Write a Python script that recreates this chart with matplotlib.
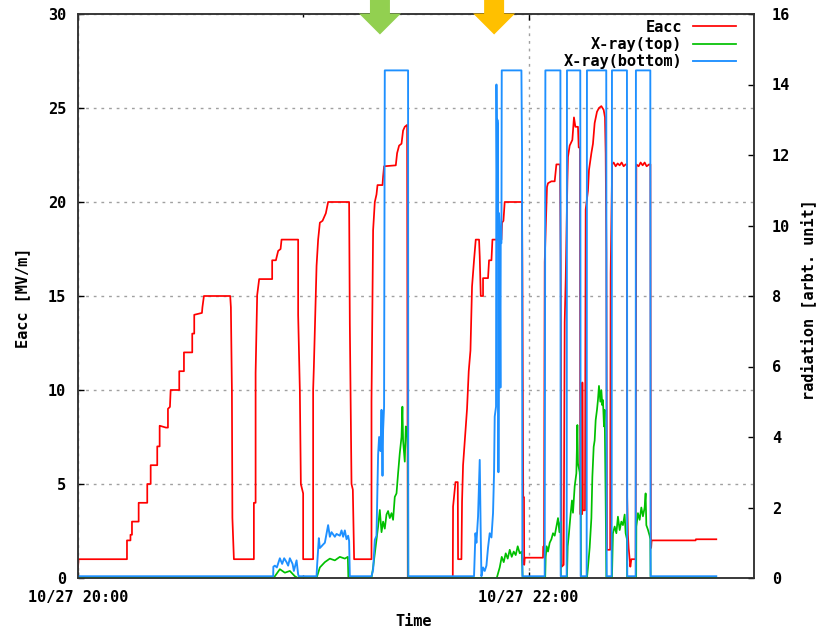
import matplotlib
matplotlib.use("Agg")
import matplotlib.pyplot as plt
import matplotlib.transforms as mtransforms
from matplotlib.patches import Polygon

# time axis: minutes after 10/27 20:00
eacc_t = [0.0, 0.13, 13.04, 13.04, 13.97, 13.97, 14.37, 14.37, 16.15, 16.15, 18.44, 18.44,
          19.35, 19.35, 21.10, 21.10, 21.74, 21.74, 23.42, 23.95, 23.95, 24.48, 24.67, 26.96,
          26.96, 28.21, 28.21, 30.42, 30.42, 30.95, 30.95, 33.00, 33.13, 33.53, 40.53, 40.71,
          40.98, 41.11, 41.51,
          46.83, 46.83, 47.29, 47.29, 47.71, 48.24, 51.70, 51.70, 52.69, 53.30, 53.94, 54.20,
          58.62, 58.62, 59.07, 59.34, 59.95, 59.95,
          62.61, 62.61, 62.80, 63.52, 63.94, 64.40, 65.11, 65.99, 66.60, 72.19, 72.38, 72.83,
          73.18, 73.52,
          78.15, 78.15, 78.58, 79.03, 79.48, 79.75, 81.08, 81.24, 81.50, 84.62, 84.97, 85.50,
          86.14, 86.56, 87.01, 87.63, 87.81,
          99.79, 99.87, 100.51, 101.12, 101.20, 102.10, 102.26, 102.53, 103.25, 103.59, 104.04,
          104.50, 104.76, 104.92, 105.45, 105.91, 106.79, 106.97, 107.24, 107.85, 107.85,
          109.18, 109.45, 110.09, 110.35, 112.75, 112.91, 113.28, 113.62, 118.23, 118.33,
          118.55, 118.76, 118.81, 118.95, 123.82, 123.87, 124.08, 124.27, 124.72, 124.88,
          125.15, 126.05, 126.93, 127.38, 128.07, 128.34, 128.53, 128.71, 128.79, 129.32,
          129.59, 129.86, 130.31, 130.47, 130.92, 131.63, 132.06, 132.44, 133.13, 133.32,
          133.66, 133.72, 134.25, 134.30, 134.43, 135.00, 135.18, 135.79, 136.06, 136.70,
          137.12, 137.57, 138.19, 138.72, 139.35, 139.97, 140.32, 140.50, 140.69, 140.85,
          141.70, 141.83, 142.23, 142.63, 143.16, 143.69, 144.23, 144.76, 145.29, 145.82,
          146.17, 146.22, 146.43, 146.62, 147.07, 147.34, 148.22, 148.48, 148.67, 149.28,
          149.81, 150.35, 150.88, 151.41, 152.07, 152.42, 152.53, 152.61, 152.74, 164.45,
          164.53, 169.96]
eacc_v = [0.5, 1.0, 1.0, 2.0, 2.0, 2.3, 2.3, 3.0, 3.0, 4.0, 4.0, 5.0,
          5.0, 6.0, 6.0, 7.0, 7.0, 8.1, 8.0, 8.0, 9.0, 9.1, 10.0, 10.0,
          11.0, 11.0, 12.0, 12.0, 13.0, 13.0, 14.0, 14.1, 14.4, 15.0, 15.0, 14.4,
          10.0, 3.2, 1.0,
          1.0, 4.0, 4.0, 10.9, 15.05, 15.9, 15.9, 16.9, 16.9, 17.4, 17.5, 18.0,
          18.0, 14.0, 10.0, 5.0, 4.5, 1.0,
          1.0, 10.0, 11.2, 16.6, 18.0, 18.9, 19.0, 19.4, 20.0, 20.0, 13.5, 5.0,
          4.7, 1.0,
          1.0, 9.4, 18.5, 20.0, 20.4, 20.9, 20.9, 21.35, 21.9, 21.95, 22.6, 23.0,
          23.1, 23.8, 24.0, 24.1, 0.0,
          0.0, 3.8, 5.1, 5.1, 1.0, 1.0, 4.06, 6.0, 8.05, 9.0, 11.0,
          12.1, 14.1, 15.5, 16.9, 18.0, 18.0, 17.1, 15.0, 15.0, 15.95,
          15.95, 16.9, 16.9, 18.0, 18.0, 18.9, 19.0, 20.0, 20.0, 16.4,
          4.3, 4.3, 0.7, 1.08, 1.08, 1.67, 1.67, 16.8, 19.9, 20.8,
          21.0, 21.1, 21.1, 22.0, 22.0, 22.0, 16.8, 4.0, 0.6, 0.7,
          13.6, 15.9, 21.1, 22.4, 23.0, 23.3, 24.5, 24.0, 24.0, 22.9,
          22.9, 3.4, 3.4, 10.4, 3.6, 3.6, 19.6, 20.6, 21.7, 22.6,
          23.1, 24.2, 24.8, 25.0, 25.1, 24.9, 24.5, 22.6, 17.3, 1.5,
          1.5, 16.2, 22.0, 22.1, 21.9, 22.05, 21.95, 22.1, 21.9, 22.0,
          22.0, 4.3, 2.3, 1.6, 0.6, 1.0, 1.0, 1.0, 22.0, 21.9,
          22.1, 21.95, 22.1, 21.9, 22.0, 22.0, 2.55, 1.6, 2.0, 2.0,
          2.06, 2.06]

top_t = [0.0, 51.89, 52.42, 53.75, 55.08, 56.41, 57.74, 58.54,
         63.52, 64.40, 65.73, 67.06, 68.39, 69.72, 71.05, 71.85, 71.99,
         78.15, 78.58, 79.03, 79.48, 79.91, 80.36, 80.82, 81.24, 81.69, 82.14, 82.57, 83.02,
         83.48, 83.90, 84.35, 84.81, 85.23, 85.68, 86.14, 86.38, 86.56, 87.01, 87.28, 87.63,
         87.89, 87.94,
         111.50, 112.29, 112.83, 113.36, 113.89, 114.42, 114.96, 115.49, 116.02, 116.55,
         117.08, 117.62, 118.15, 118.41,
         124.40, 124.53, 124.79, 125.15, 125.60, 126.05, 126.48, 126.93, 127.38, 127.81,
         128.18, 128.53, 128.58,
         130.20, 130.39, 130.73, 131.19, 131.53, 131.80, 132.25, 132.70, 132.97, 133.13,
         133.58, 133.85, 133.93,
         135.52, 135.79, 136.24, 136.70, 136.96, 137.31, 137.57, 137.84, 138.19, 138.45,
         138.72, 139.09, 139.35, 139.62, 139.78, 140.05, 140.23, 140.50, 140.69,
         142.18, 142.44, 142.90, 143.35, 143.77, 144.23, 144.68, 145.10, 145.56, 145.82,
         146.17, 146.22,
         148.62, 148.67, 149.10, 149.55, 150.00, 150.43, 150.88, 151.14, 151.33, 151.76,
         152.21, 152.39, 152.47, 169.96]
top_v = [0.0, 0.0, 0.05, 0.25, 0.15, 0.20, 0.05, 0.0,
         0.0, 0.30, 0.45, 0.55, 0.50, 0.60, 0.55, 0.60, 0.0,
         0.0, 0.30, 0.70, 1.08, 1.46, 1.93, 1.30, 1.60, 1.40, 1.80, 1.90, 1.70,
         1.84, 1.65, 2.30, 2.40, 2.97, 3.54, 4.00, 4.86, 3.90, 3.30, 4.30, 4.10,
         3.50, 0.0,
         0.0, 0.30, 0.60, 0.45, 0.70, 0.55, 0.80, 0.60, 0.75, 0.65,
         0.90, 0.70, 0.75, 0.0,
         0.0, 0.60, 0.90, 0.75, 1.00, 1.10, 1.27, 1.20, 1.46, 1.70,
         1.30, 1.60, 0.0,
         0.0, 0.90, 1.27, 1.84, 2.20, 1.85, 2.60, 2.97, 4.34, 3.25,
         3.00, 2.50, 0.0,
         0.0, 0.30, 0.86, 1.70, 2.87, 3.72, 3.90, 4.48, 4.77, 5.05,
         5.45, 5.00, 5.33, 4.90, 5.05, 4.30, 4.77, 2.20, 0.0,
         0.0, 1.27, 1.46, 1.27, 1.74, 1.36, 1.60, 1.50, 1.80, 1.27,
         1.10, 0.0,
         0.0, 1.46, 1.84, 1.65, 2.00, 1.75, 2.00, 2.40, 1.50, 1.37,
         1.20, 1.10, 0.0, 0.0]

bottom_t = [0.0, 51.97, 52.02, 52.42, 52.95, 53.75, 54.36, 54.90, 55.53, 55.96, 56.41,
            57.13, 57.48, 58.20, 58.62, 58.81,
            63.52, 63.68, 64.13, 64.40, 64.85, 65.27, 65.73, 66.60, 67.06, 67.51, 68.39,
            68.84, 69.72, 70.17, 70.60, 71.05, 71.50, 71.93, 72.19, 72.38,
            78.15, 78.58, 79.03, 79.48, 79.91, 80.18, 80.55, 80.82, 81.08, 81.24, 81.50,
            81.69, 87.89, 87.94,
            105.45, 105.83, 106.09, 106.52, 106.97, 107.24, 107.42, 107.85, 108.30, 108.75,
            109.18, 109.63, 110.09, 110.51, 110.78, 110.96, 111.31, 111.42, 111.58, 111.68,
            111.84, 111.95, 112.11, 112.29, 112.48, 112.56, 112.75, 112.83, 118.07, 118.23,
            118.33,
            124.27, 124.45, 128.45, 128.53, 130.12, 130.20, 133.74, 133.85, 135.44, 135.52,
            140.66, 140.77, 142.09, 142.18, 146.17, 146.25, 148.48, 148.56, 152.39, 152.47,
            169.96]
bottom_v = [0.05, 0.05, 0.32, 0.35, 0.30, 0.56, 0.40, 0.56, 0.45, 0.35, 0.56,
            0.40, 0.20, 0.50, 0.10, 0.05,
            0.05, 0.38, 1.13, 0.85, 0.90, 0.95, 1.00, 1.50, 1.17, 1.30, 1.17,
            1.25, 1.20, 1.35, 1.17, 1.35, 1.10, 1.20, 1.05, 0.05,
            0.05, 0.23, 1.08, 1.20, 3.50, 4.00, 3.60, 4.77, 2.90, 4.20, 4.86,
            14.4, 14.4, 0.05,
            0.05, 1.27, 1.00, 1.74, 3.35, 1.20, 0.05, 0.30, 0.20, 0.35,
            0.86, 1.27, 1.15, 1.84, 2.97, 4.58, 4.86, 14.0, 11.05, 13.0,
            12.8, 3.0, 10.35, 9.9, 5.4, 9.5, 9.5, 14.4, 14.4, 12.1,
            0.05,
            0.05, 14.4, 14.4, 0.05, 0.05, 14.4, 14.4, 0.05, 0.05, 14.4,
            14.4, 0.05, 0.05, 14.4, 14.4, 0.05, 0.05, 14.4, 14.4, 0.05,
            0.05]

x_ticks = [0, 120]
x_ticklabels = ["10/27 20:00", "10/27 22:00"]
x_minor = [60]
eacc_ticks = [0, 5, 10, 15, 20, 25, 30]
rad_ticks = [0, 2, 4, 6, 8, 10, 12, 14, 16]

# arrows marking the two events
event_times = [80.4, 110.8]
event_colors = ["#92d050", "#ffc000"]

W, H = 822, 630
FONT = dict(family="DejaVu Sans Mono", weight="bold", size=11)
plt.rcParams["font.family"] = "DejaVu Sans Mono"
plt.rcParams["font.weight"] = "bold"
plt.rcParams["font.size"] = 11

fig = plt.figure(figsize=(W / 100, H / 100), dpi=100)
ax = fig.add_axes([78 / W, 52 / H, 676 / W, 564 / H])
ax2 = ax.twinx()

l1, = ax.plot(eacc_t, eacc_v, color="#ff0000", lw=1.25, label="Eacc")
l2, = ax2.plot(top_t, top_v, color="#00c000", lw=1.25, label="X-ray(top)")
l3, = ax2.plot(bottom_t, bottom_v, color="#1e90ff", lw=1.35, label="X-ray(bottom)")

ax.set_xlim(0, 180)
ax.set_ylim(0, 30)
ax2.set_ylim(0, 16)

ax.set_xticks(x_ticks)
ax.set_xticklabels(x_ticklabels)
ax.set_xticks(x_minor, minor=True)
ax.set_yticks(eacc_ticks)
ax2.set_yticks(rad_ticks)

ax.set_axisbelow(True)
ax.grid(True, which="major", color="#a0a0a0", lw=1.0, linestyle=(0, (2, 3.5)))

ax.tick_params(axis="y", direction="in", length=4.5, width=1, pad=8.6, colors="black")
ax.tick_params(axis="x", which="major", direction="in", length=4.5, width=1,
               top=True, bottom=True, pad=8.5)
ax.tick_params(axis="x", which="minor", direction="in", length=2.5, width=1,
               top=True, bottom=True)
ax2.tick_params(axis="y", direction="in", length=4.5, width=1, pad=13)

for a in (ax, ax2):
    for sp in a.spines.values():
        sp.set_color("#333333")
        sp.set_linewidth(1.1)

fig.text(23 / W, 1 - 298 / H, "Eacc [MV/m]", rotation=90, ha="center", va="center", **FONT)
fig.text(808 / W, 1 - 300 / H, "radiation [arbt. unit]", rotation=90,
         ha="center", va="center", **FONT)
fig.text(414 / W, 1 - 622 / H, "Time", ha="center", va="center", **FONT)

ax2.legend([l1, l2, l3], [l1.get_label(), l2.get_label(), l3.get_label()],
           loc="upper right", bbox_to_anchor=(0.9734, 0.990), bbox_transform=ax.transAxes,
           frameon=False, markerfirst=False, handlelength=2.8, handletextpad=0.7,
           labelspacing=0.15, borderpad=0, borderaxespad=0, prop=FONT)

# downward arrows above the frame, x in minutes, y in figure fraction
trans = mtransforms.blended_transform_factory(ax.transData, fig.transFigure)
half_stem, half_head = 10 / 3.758, 21 / 3.758
for t, c in zip(event_times, event_colors):
    y_top, y_neck, y_tip = 1.01, 1 - 13.5 / H, 1 - 34.5 / H
    verts = [(t - half_stem, y_top), (t + half_stem, y_top), (t + half_stem, y_neck),
             (t + half_head, y_neck), (t, y_tip), (t - half_head, y_neck),
             (t - half_stem, y_neck)]
    fig.add_artist(Polygon(verts, closed=True, transform=trans, facecolor=c,
                           edgecolor="none", clip_on=False, zorder=5))

fig.savefig("out.png", dpi=100)
